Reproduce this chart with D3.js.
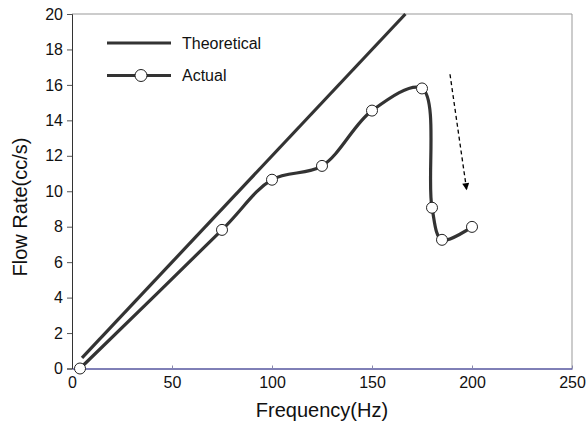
<!DOCTYPE html>
<html>
<head>
<script src="https://cdn.jsdelivr.net/npm/d3@7"></script>
<style>
  body { margin: 0; background: #fff; }
  text { font-family: "Liberation Sans", Arial, sans-serif; }
</style>
</head>
<body>
<script>
// data
var freq = [4, 75, 100, 125, 150, 175, 180, 185, 200];
var flow = [0, 7.82, 10.65, 11.43, 14.55, 15.8, 9.07, 7.26, 7.99];
var theoFreq = [5, 166.7];
var theoFlow = [0.6, 20];
var xTicks = [0, 50, 100, 150, 200, 250];
var yTicks = [0, 2, 4, 6, 8, 10, 12, 14, 16, 18, 20];
var arrowFrom = [189, 16.6];
var arrowTo = [197.3, 10.1];

var width = 587, height = 425;
var margin = {left: 72, right: 15, top: 14, bottom: 56.5};

var x = d3.scaleLinear().domain([0, 250]).range([margin.left, width - margin.right]);
var y = d3.scaleLinear().domain([0, 20]).range([height - margin.bottom, margin.top]);

var svg = d3.select("body").append("svg")
    .attr("width", width).attr("height", height);

svg.append("defs").append("marker")
    .attr("id", "head")
    .attr("viewBox", "0 0 10 10")
    .attr("refX", 9).attr("refY", 5)
    .attr("markerWidth", 9).attr("markerHeight", 7)
    .attr("markerUnits", "userSpaceOnUse")
    .attr("orient", "auto")
  .append("path")
    .attr("d", "M0,0L10,5L0,10Z")
    .attr("fill", "#000");

// frame: top and right in grey
svg.append("line")
    .attr("x1", x(0)).attr("x2", x(250)).attr("y1", y(20)).attr("y2", y(20))
    .attr("stroke", "#999").attr("stroke-width", 1);
svg.append("line")
    .attr("x1", x(250)).attr("x2", x(250)).attr("y1", y(20)).attr("y2", y(0))
    .attr("stroke", "#999").attr("stroke-width", 1);

// axes
var xAxis = svg.append("g")
    .attr("transform", "translate(0," + y(0) + ")")
    .call(d3.axisBottom(x).tickValues(xTicks).tickSizeInner(-3).tickSizeOuter(0).tickPadding(8));
xAxis.select(".domain").attr("stroke", "#00006e");
xAxis.selectAll(".tick line").attr("stroke", "#8888aa");
xAxis.selectAll("text").attr("font-size", 16).attr("fill", "#111");

var yAxis = svg.append("g")
    .attr("transform", "translate(" + x(0) + ",0)")
    .call(d3.axisLeft(y).tickValues(yTicks).tickSize(5).tickPadding(4));
yAxis.select(".domain").attr("stroke", "#333");
yAxis.selectAll(".tick line").attr("stroke", "#555");
yAxis.selectAll("text").attr("font-size", 16).attr("fill", "#111");

// axis titles
svg.append("text")
    .attr("x", (x(0) + x(250)) / 2).attr("y", 417)
    .attr("text-anchor", "middle")
    .attr("font-size", 20).attr("fill", "#111")
    .text("Frequency(Hz)");
svg.append("text")
    .attr("transform", "translate(27,207) rotate(-90)")
    .attr("text-anchor", "middle")
    .attr("font-size", 20).attr("fill", "#111")
    .text("Flow Rate(cc/s)");

// theoretical line
svg.append("line")
    .attr("x1", x(theoFreq[0])).attr("y1", y(theoFlow[0]))
    .attr("x2", x(theoFreq[1])).attr("y2", y(theoFlow[1]))
    .attr("stroke", "#333").attr("stroke-width", 3.2);

// actual curve
var pts = freq.map(function(f, i){ return [f, flow[i]]; });
var line = d3.line()
    .x(function(d){ return x(d[0]); })
    .y(function(d){ return y(d[1]); })
    .curve(d3.curveCatmullRom.alpha(0.5));

svg.append("path")
    .datum(pts)
    .attr("d", line)
    .attr("fill", "none")
    .attr("stroke", "#333").attr("stroke-width", 3.2);

svg.selectAll("circle.pt")
    .data(pts)
    .enter()
    .append("circle")
    .attr("class", "pt")
    .attr("cx", function(d){ return x(d[0]); })
    .attr("cy", function(d){ return y(d[1]); })
    .attr("r", 5.5)
    .attr("fill", "#fff")
    .attr("stroke", "#222").attr("stroke-width", 1);

// dashed arrow
svg.append("line")
    .attr("x1", x(arrowFrom[0])).attr("y1", y(arrowFrom[1]))
    .attr("x2", x(arrowTo[0])).attr("y2", y(arrowTo[1]))
    .attr("stroke", "#000").attr("stroke-width", 1.3)
    .attr("stroke-dasharray", "4,3")
    .attr("marker-end", "url(#head)");

// legend
var legend = svg.append("g");
legend.append("line")
    .attr("x1", 107).attr("x2", 171).attr("y1", 43).attr("y2", 43)
    .attr("stroke", "#333").attr("stroke-width", 3.2);
legend.append("text")
    .attr("x", 182).attr("y", 49)
    .attr("font-size", 16).attr("fill", "#111")
    .text("Theoretical");
legend.append("line")
    .attr("x1", 107).attr("x2", 171).attr("y1", 75.5).attr("y2", 75.5)
    .attr("stroke", "#333").attr("stroke-width", 3.2);
legend.append("circle")
    .attr("cx", 141).attr("cy", 75.5).attr("r", 6)
    .attr("fill", "#fff").attr("stroke", "#222").attr("stroke-width", 1);
legend.append("text")
    .attr("x", 182).attr("y", 81)
    .attr("font-size", 16).attr("fill", "#111")
    .text("Actual");
</script>
</body>
</html>
